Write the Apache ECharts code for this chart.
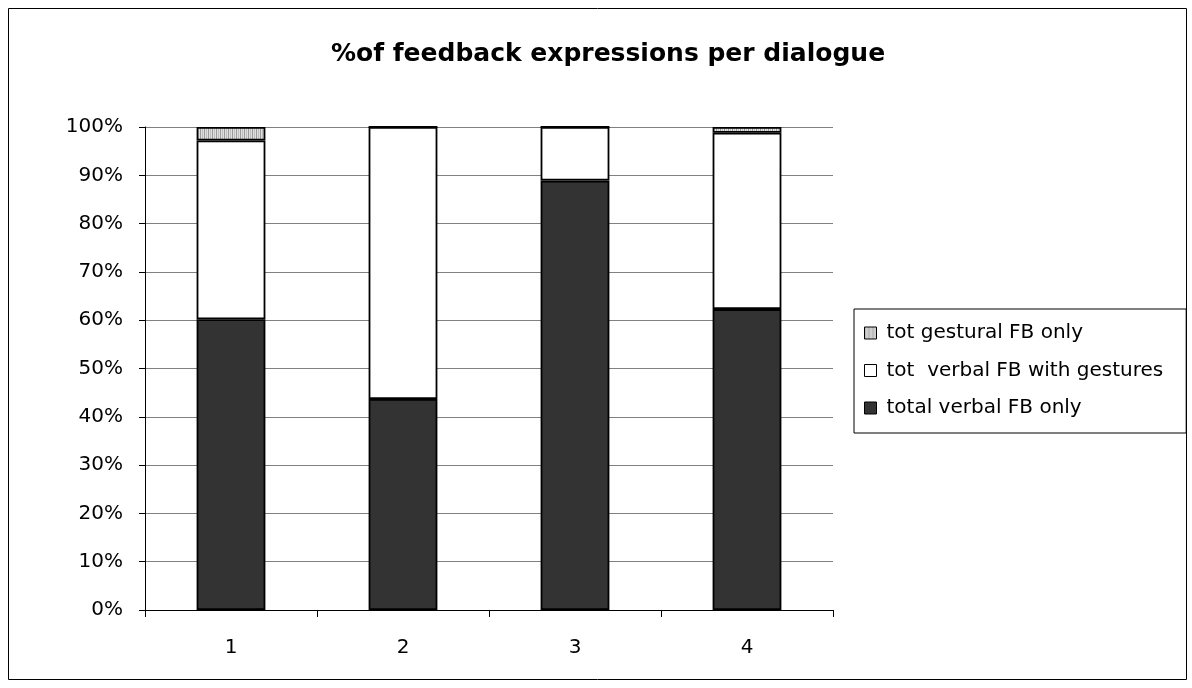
<!DOCTYPE html>
<html>
<head>
<meta charset="utf-8">
<script src="https://cdn.jsdelivr.net/npm/echarts@6/dist/echarts.min.js"></script>
<style>
  html, body { margin: 0; padding: 0; background: #fff; }
  #chart { width: 1192px; height: 688px; }
</style>
</head>
<body>
<div id="chart"></div>
<script>
// Dialogues on the x axis
const categories = ['1', '2', '3', '4'];
// Share of feedback expressions (%) per dialogue, stacked bottom to top
const totalVerbalOnly = [60.2, 43.7, 88.9, 62.3];
const verbalWithGestures = [37.0, 56.3, 11.1, 36.5];
const gesturalOnly = [2.8, 0, 0, 1.2];
const yTicks = ['0%', '10%', '20%', '30%', '40%', '50%', '60%', '70%', '80%', '90%', '100%'];

// Vertical-stripe fill for the gestural series
function stripePattern() {
  const c = document.createElement('canvas');
  c.width = 4; c.height = 4;
  const g = c.getContext('2d');
  g.fillStyle = '#e0e0e0'; g.fillRect(0, 0, 4, 4);
  g.fillStyle = '#9a9a9a'; g.fillRect(0, 0, 1, 4);
  g.fillStyle = '#bdbdbd'; g.fillRect(2, 0, 1, 4);
  return c;
}
const stripes = { image: stripePattern(), repeat: 'repeat' };

const chart = echarts.init(document.getElementById('chart'), null, { renderer: 'canvas' });
const font = '"DejaVu Sans", Arial, sans-serif';

const barStyle = (color) => ({ color: color, borderColor: '#000', borderWidth: 1.8 });

chart.setOption({
  animation: false,
  backgroundColor: '#fff',
  textStyle: { fontFamily: font },
  title: {
    text: '%of feedback expressions per dialogue',
    left: 603, top: 37, textAlign: 'center',
    textStyle: { fontSize: 25, fontWeight: 'bold', color: '#000', fontFamily: font }
  },
  graphic: [{
    type: 'rect', shape: { x: 8.5, y: 8.5, width: 1178, height: 671 },
    style: { fill: 'none', stroke: '#000', lineWidth: 1 }, silent: true, z: -1
  }],
  grid: { left: 145, top: 127, right: 359, bottom: 78 },
  legend: {
    orient: 'vertical', left: 854, top: 309,
    padding: [14, 23, 15, 10], itemGap: 17.5,
    borderColor: '#000', borderWidth: 1,
    itemWidth: 12, itemHeight: 12, icon: 'rect',
    textStyle: { fontSize: 20, lineHeight: 20, color: '#000', fontFamily: font, padding: [0, 0, 0, 5] },
    data: [
      { name: 'tot gestural FB only', itemStyle: { color: stripes, borderColor: '#000', borderWidth: 1 } },
      { name: 'tot  verbal FB with gestures', itemStyle: { color: '#fff', borderColor: '#000', borderWidth: 1 } },
      { name: 'total verbal FB only', itemStyle: { color: '#333', borderColor: '#000', borderWidth: 1 } }
    ]
  },
  xAxis: {
    type: 'category', data: categories, boundaryGap: true,
    axisLine: { lineStyle: { color: '#000', width: 1 } },
    axisTick: { show: true, alignWithLabel: false, length: 7, lineStyle: { color: '#000' } },
    axisLabel: { fontSize: 20, color: '#000', margin: 28, fontFamily: font },
    splitLine: { show: false }
  },
  yAxis: {
    type: 'value', min: 0, max: 100, interval: 10,
    axisLine: { show: true, lineStyle: { color: '#000', width: 1 } },
    axisTick: { show: true, length: 6, lineStyle: { color: '#000' } },
    axisLabel: {
      fontSize: 20, color: '#000', margin: 22, fontFamily: font,
      padding: [0, 0, 5, 0],
      formatter: (v) => yTicks[Math.round(v / 10)]
    },
    splitLine: { show: true, lineStyle: { color: '#808080', width: 1 } }
  },
  series: [
    { name: 'total verbal FB only', type: 'bar', stack: 'fb', data: totalVerbalOnly,
      barWidth: '40%', itemStyle: barStyle('#333') },
    { name: 'tot  verbal FB with gestures', type: 'bar', stack: 'fb', data: verbalWithGestures,
      barWidth: '40%', itemStyle: barStyle('#fff') },
    { name: 'tot gestural FB only', type: 'bar', stack: 'fb', data: gesturalOnly,
      barWidth: '40%', itemStyle: barStyle(stripes) }
  ]
});
</script>
</body>
</html>
